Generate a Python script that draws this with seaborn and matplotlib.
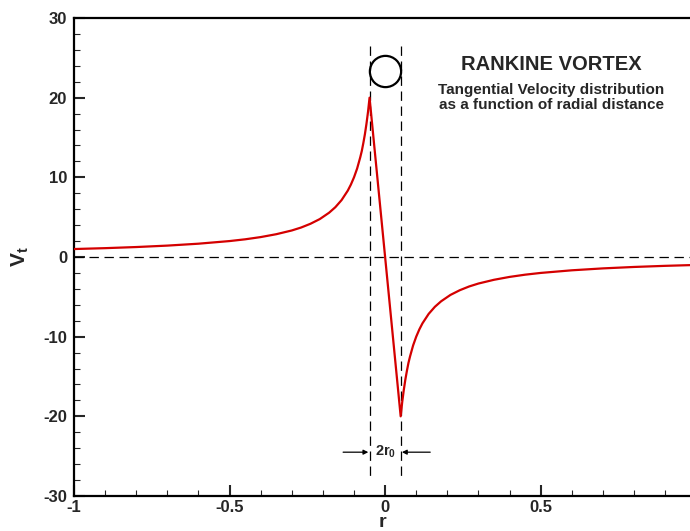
import numpy as np
import pandas as pd
import matplotlib
matplotlib.use("Agg")
import matplotlib.pyplot as plt
import seaborn as sns

# Values
r_vals = [-1.0, -0.9, -0.8, -0.7, -0.6, -0.5, -0.45, -0.4, -0.35, -0.3, -0.27, -0.24,
          -0.21, -0.18, -0.16, -0.14, -0.12, -0.11, -0.10, -0.09, -0.08, -0.075, -0.07,
          -0.065, -0.06, -0.055, -0.05,
          0.05, 0.055, 0.06, 0.065, 0.07, 0.075, 0.08, 0.09, 0.10, 0.11, 0.12, 0.14,
          0.16, 0.18, 0.21, 0.24, 0.27, 0.3, 0.35, 0.4, 0.45, 0.5, 0.6, 0.7, 0.8, 0.9, 0.98]
vt_vals = [1.0, 1.11, 1.25, 1.43, 1.67, 2.0, 2.22, 2.5, 2.86, 3.33, 3.7, 4.17,
           4.76, 5.56, 6.25, 7.14, 8.33, 9.09, 10.0, 11.1, 12.5, 13.3, 14.3,
           15.4, 16.7, 18.2, 20.0,
           -20.0, -18.2, -16.7, -15.4, -14.3, -13.3, -12.5, -11.1, -10.0, -9.09, -8.33, -7.14,
           -6.25, -5.56, -4.76, -4.17, -3.7, -3.33, -2.86, -2.5, -2.22, -2.0, -1.67, -1.43, -1.25, -1.11, -1.02]
core_radius = 0.05
x_ticks = [-1, -0.5, 0, 0.5]
x_ticklabels = ["-1", "-0.5", "0", "0.5"]
y_ticks = [-30, -20, -10, 0, 10, 20, 30]
y_ticklabels = ["-30", "-20", "-10", "0", "10", "20", "30"]
title_text = "RANKINE VORTEX"
subtitle_lines = ["Tangential Velocity distribution", "as a function of radial distance"]

sns.set_style("ticks")
plt.rcParams["font.family"] = ["Liberation Sans", "DejaVu Sans"]
plt.rcParams["mathtext.fontset"] = "custom"
plt.rcParams["mathtext.rm"] = "Liberation Sans"
plt.rcParams["mathtext.bf"] = "Liberation Sans:bold"
plt.rcParams["mathtext.it"] = "Liberation Sans:italic"

df = pd.DataFrame({"r": r_vals, "Vt": vt_vals})

fig = plt.figure(figsize=(6.9, 5.31), dpi=100)
ax = fig.add_axes([74 / 690, 35 / 531, 1 - 74 / 690, (496 - 18) / 531])

sns.lineplot(data=df, x="r", y="Vt", ax=ax, color="#d40000", linewidth=1.6,
             estimator=None, sort=True, zorder=3)

dash = (7.5, 4.5)
ax.axhline(0, color="black", linewidth=0.9, dashes=dash, zorder=2)
for xv in (-core_radius, core_radius):
    ax.plot([xv, xv], [26.5, -28.0], color="black", linewidth=0.9, dashes=dash, zorder=2)

# circle symbol between the core lines
ax.plot([0], [23.3], marker="o", markersize=22.5, markerfacecolor="none",
        markeredgecolor="black", markeredgewidth=1.6, linestyle="none", zorder=4)

# 2r0 annotation
ya = -24.5
ax.annotate("", xy=(-core_radius - 0.004, ya), xytext=(-0.135, ya),
            arrowprops=dict(arrowstyle="-|>", color="black", lw=0.9,
                            mutation_scale=7, shrinkA=0, shrinkB=0))
ax.annotate("", xy=(core_radius + 0.004, ya), xytext=(0.145, ya),
            arrowprops=dict(arrowstyle="-|>", color="black", lw=0.9,
                            mutation_scale=7, shrinkA=0, shrinkB=0))
ax.text(0, ya, r"$\mathbf{2r_0}$", ha="center", va="center", fontsize=10.5,
        bbox=dict(facecolor="white", edgecolor="none", pad=1.0), zorder=5)

# titles
ax.text(0.535, 24.2, title_text, ha="center", va="center", fontsize=14.5,
        fontweight="bold")
ax.text(0.535, 20.9, subtitle_lines[0], ha="center", va="center", fontsize=11,
        fontweight="bold")
ax.text(0.535, 19.1, subtitle_lines[1], ha="center", va="center", fontsize=11,
        fontweight="bold")

ax.set_xlim(-1, 0.98)
ax.set_ylim(-30, 30)
ax.set_xticks(x_ticks)
ax.set_xticklabels(x_ticklabels)
ax.set_yticks(y_ticks)
ax.set_yticklabels(y_ticklabels)
ax.set_xticks(np.arange(-1, 0.99, 0.1), minor=True)
ax.set_yticks(np.arange(-30, 31, 2), minor=True)

ax.tick_params(which="major", direction="in", length=8, width=1.5,
               labelsize=12, pad=5)
ax.tick_params(axis="x", which="major", pad=3)
ax.tick_params(which="minor", direction="in", length=4.5, width=0.8)
ax.tick_params(axis="x", which="both", top=False)
ax.tick_params(axis="y", which="both", right=False)
for lab in ax.get_xticklabels() + ax.get_yticklabels():
    lab.set_fontweight("bold")

for s in ("left", "bottom", "top"):
    ax.spines[s].set_linewidth(1.6)
    ax.spines[s].set_color("black")
ax.spines["right"].set_visible(False)

ax.set_xlabel("r", fontsize=14, fontweight="bold", labelpad=-1)
ax.set_ylabel(r"$\mathbf{V_t}$", fontsize=15, labelpad=9)

fig.savefig("out.png", dpi=100)
